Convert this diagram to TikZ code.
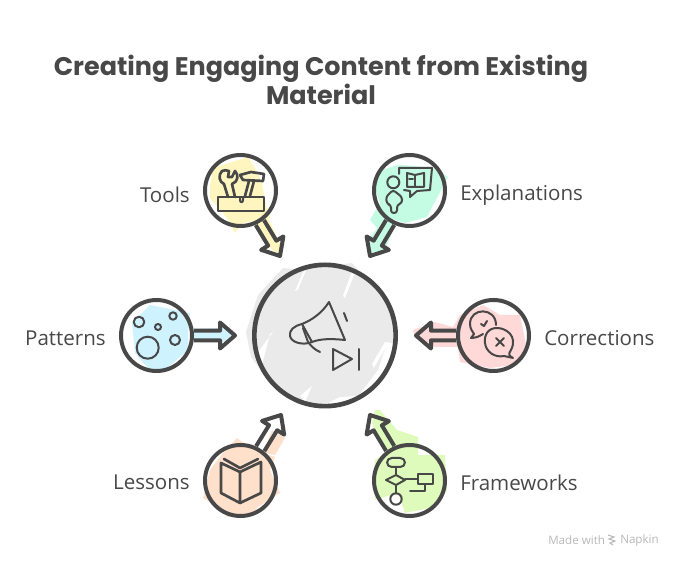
\documentclass[tikz,border=0pt]{standalone}
\usepackage{fontspec}
\setmainfont{Open Sans}
\newfontfamily\titlefont{Poppins}
\usetikzlibrary{positioning,calc}
\definecolor{ink}{HTML}{484848}
\definecolor{washgrey}{HTML}{EAEAEA}
\definecolor{washyellow}{HTML}{FFF6BF}
\definecolor{washmint}{HTML}{C4FBE3}
\definecolor{washblue}{HTML}{CFF2FF}
\definecolor{washpink}{HTML}{FFD8D8}
\definecolor{washorange}{HTML}{FFE1CB}
\definecolor{washgreen}{HTML}{DFFBBC}
\tikzset{
  sat/.style       = {circle, draw=ink, line width=3pt, minimum size=53.25pt, inner sep=0pt},
  hub/.style       = {circle, draw=ink, line width=3.5pt, minimum size=106pt, inner sep=0pt},
  lbl/.style       = {font=\fontsize{15.4}{18}\selectfont, text=ink, inner sep=0pt},
  arrowline/.style = {draw=ink, line width=3pt, line join=round},
  icon/.style      = {draw=ink, line width=1.5pt, line join=round, line cap=round},
  iconb/.style     = {draw=ink, line width=2pt, line join=round, line cap=round},
  stamp/.style     = {font=\fontsize{8.7}{11}\selectfont, text=black!28, inner sep=0pt},
}
\newcommand{\sketcharrow}[2]{%
  \path (#1) -- (#2) coordinate[pos=0] (tail);
  \coordinate (neck) at ($(#2)!11.25pt!(tail)$);
  \draw[arrowline] ($(tail)!3.6pt!90:(#2)$) -- ($(neck)!3.6pt!90:(#2)$) -- ($(neck)!9.75pt!90:(#2)$) -- (#2)
    -- ($(neck)!9.75pt!-90:(#2)$) -- ($(neck)!3.6pt!-90:(#2)$) -- ($(tail)!3.6pt!-90:(#2)$);
}
\begin{document}
\begin{tikzpicture}[x=0.75pt,y=-0.75pt]
  \useasboundingbox (0,0) rectangle (679,566);

  % washes
  \fill[washgrey] (283,268) -- (303,270) -- (310,268) -- (352,263) -- (376,290) -- (395,316) -- (398,345)
    -- (387,342) -- (378,370) -- (358,396) -- (340,397) -- (320,407) -- (297,404) -- (268,380) -- (251,357) -- (246,332) -- (258,295) -- cycle;
  \fill[white] (303,272) -- (306,270) -- (298,290) -- (295,291) -- cycle;
  \fill[white] (353,268) -- (356,270) -- (345,298) -- (343,296) -- cycle;
  \fill[white] (273,332) -- (270,334) -- (262,365) -- (258,352) -- cycle;
  \fill[white] (385,342) -- (388,343) -- (374,368) -- (372,364) -- cycle;
  \fill[white] (300,396) -- (312,386) -- (305,402) -- cycle;
  \fill[washyellow] (213,168) -- (248,157) -- (255,168) -- (262,183) -- (265,200) -- (270,218) -- (243,223) -- (235,233) -- (227,218) -- (210,198) -- (210,187) -- cycle;
  \fill[washyellow] (255,222) -- (268,218) -- (283,250) -- (278,255) -- (262,240) -- cycle;
  \fill[washmint] (383,170) -- (397,165) -- (403,165) -- (433,168) -- (448,177) -- (427,217) -- (405,223) -- (388,218) -- (377,228) -- (370,220) -- (380,203) -- (373,183) -- cycle;
  \fill[washmint] (385,218) -- (395,226) -- (385,250) -- (370,256) -- (368,240) -- cycle;
  \fill[washblue] (132,323) -- (150,305) -- (190,313) -- (188,333) -- (188,350) -- (173,363) -- (160,373) -- (147,367) -- (135,353) -- cycle;
  \fill[washblue] (190,329) -- (225,328) -- (232,335) -- (225,342) -- (190,341) -- cycle;
  \fill[washpink] (413,330) -- (435,322) -- (453,327) -- (460,315) -- (483,305) -- (500,315) -- (520,315) -- (527,350) -- (513,365) -- (490,368) -- (460,362) -- (458,347) -- (435,347) -- (415,338) -- cycle;
  \fill[washorange] (237,438) -- (253,450) -- (263,453) -- (275,457) -- (270,470) -- (280,493) -- (258,507) -- (250,517) -- (228,517) -- (215,505) -- (203,498) -- (210,470) -- (223,453) -- cycle;
  \fill[washorange] (263,453) -- (272,430) -- (285,438) -- (275,455) -- cycle;
  \fill[washgreen] (375,410) -- (380,410) -- (397,430) -- (418,437) -- (418,455) -- (445,455) -- (447,490) -- (435,507) -- (405,513) -- (398,493) -- (375,500) -- (373,480) -- (375,460) -- (385,453) -- (372,423) -- cycle;

  % title
  \node[font=\titlefont\bfseries\fontsize{19.1}{22}\selectfont, text=ink, align=center, inner sep=0pt] (title) at (321,80)
    {Creating Engaging Content from Existing\\Material};

  % circles
  \node[hub] (promo) at (325,335.5) {};
  \node[sat] (tools) at (240.5,190.5) {};
  \node[sat] (explain) at (409.5,190.5) {};
  \node[sat] (patterns) at (156.5,335.5) {};
  \node[sat] (fixes) at (493.5,335.5) {};
  \node[sat] (lessons) at (240.5,480.5) {};
  \node[sat] (frames) at (409.5,480.5) {};

  % labels
  \node[lbl, left=9.75pt of tools, yshift=-3pt] (toolslbl) {Tools};
  \node[lbl, right=9.75pt of explain, yshift=-3.2pt] (explainlbl) {Explanations};
  \node[lbl, left=9.75pt of patterns, yshift=-2pt] (patternslbl) {Patterns};
  \node[lbl, right=9.75pt of fixes, yshift=-2pt] (fixeslbl) {Corrections};
  \node[lbl, left=9.75pt of lessons, yshift=-1.5pt] (lessonslbl) {Lessons};
  \node[lbl, right=9.75pt of frames, yshift=-1.5pt] (frameslbl) {Frameworks};

  % arrows
  \coordinate (toolstip) at (280,256);
  \coordinate (explaintip) at (370,256);
  \coordinate (patternstip) at (235,335.5);
  \coordinate (fixestip) at (416,335.5);
  \coordinate (lessonstip) at (281,415);
  \coordinate (framestip) at (370,415);
  \foreach \src/\tip in {tools/toolstip, explain/explaintip, patterns/patternstip, fixes/fixestip, lessons/lessonstip, frames/framestip}
    \sketcharrow{\src}{\tip};

  % megaphone
  \draw[icon] (329,302) .. controls (322,313) and (312,320) .. (302,324) -- (312,342) .. controls (322,338) and (335,339) .. (345,340) -- cycle;
  \draw[icon] (302,324) .. controls (294,326) and (289,330) .. (290,336) .. controls (291,342) and (302,346) .. (312,342);
  \draw[icon] (303,328) -- (308,342) .. controls (311,346) and (315,350) .. (320,352);
  \draw[icon] (344,313) -- (347,321);
  \draw[icon] (333,349) -- (352,359) -- (333,370) -- cycle;
  \draw[icon] (359,349) -- (359,370);

  % tools
  \draw[iconb] (218,197) rectangle (264,211);
  \draw[icon] (240,197) -- (240,200) .. controls (240,203) and (243,203) .. (243,200) -- (243,197);
  \draw[iconb] (222,171) .. controls (218,175) and (219,182) .. (224,184) -- (228,197);
  \draw[iconb] (235,197) -- (232,184) .. controls (238,182) and (239,175) .. (235,171) -- (232,177) -- (228,177) -- (229,171) .. controls (227,170) and (224,170) .. (222,171);
  \draw[iconb] (240,175) -- (251,172) -- (264,174) -- (263,181) -- (243,180) -- cycle;
  \draw[iconb] (249,181) -- (245,196);
  \draw[iconb] (254,181) -- (250,196);

  % person and book
  \draw[icon] (393.3,182.3) circle[radius=6];
  \draw[icon, rounded corners=2pt] (393,190) -- (386,197) -- (387,204) -- (391,205) -- (391,213) -- (397,213) -- (397,205) -- (402,203) -- (402,197) -- cycle;
  \draw[icon] (399,174) -- (399,168) -- (432,168) -- (430,190) -- (417,191) -- (410,197) -- (410,191) -- (404,190);
  \draw[icon] (407,173) -- (415,175) -- (424,173) -- (424,187) -- (407,187) -- cycle;
  \draw[icon] (415,175) -- (415,187);
  \draw[icon] (409,179) -- (413,179);

  % bubbles
  \draw[icon] (139,322) circle[radius=5.3];
  \draw[icon] (158,327) circle[radius=3];
  \draw[icon] (173,316) circle[radius=3.7];
  \draw[icon] (175,340) circle[radius=5];
  \draw[icon] (147.7,347.7) circle[radius=11];

  % speech balloons
  \draw[icon] (496,325) .. controls (496,307) and (470,307) .. (470,324) .. controls (470,329) and (473,332) .. (474,334) -- (471,338) .. controls (476,338) and (480,336) .. (483,334);
  \draw[icon] (481,324) -- (484,326) -- (487,321);
  \draw[icon] (513,358) .. controls (509,356) and (508,354) .. (511,350) .. controls (518,336) and (506,328) .. (497,328) .. controls (488,328) and (484,335) .. (485,343) .. controls (486,352) and (495,358) .. (504,356) -- cycle;
  \draw[icon] (496,338) -- (504,346);
  \draw[icon] (504,338) -- (496,346);

  % open book
  \draw[iconb] (221,463) -- (240,472) -- (240,503) -- (221,493) -- cycle;
  \draw[iconb] (240,472) -- (261,462) -- (261,493) -- (240,503);
  \draw[iconb] (224,459) -- (240,468) -- (258,459);

  % flow chart
  \draw[icon, rounded corners=3.5pt] (387,458) rectangle (405,467);
  \draw[icon] (396,467) -- (396,475);
  \draw[icon] (386,480) -- (396,475) -- (405,480) -- (396,485) -- cycle;
  \draw[icon] (396,485) -- (396,493.5);
  \draw[icon] (396,499) circle[radius=5.7];
  \draw[icon] (405,479) -- (418,479);
  \draw[icon] (418,474) rectangle (433,484);
  \draw[icon] (425,484) -- (425,491) -- (410,491);

  % maker mark
  \node[stamp, anchor=west] (madewith) at (548,540) {Made with};
  \node[stamp, anchor=west] (napkin) at (620,540) {Napkin};
  \draw[black!28, line width=0.8pt] (608,535) -- (614,537) -- (609,539) -- (615,541) -- (610,543) -- (613,545);
\end{tikzpicture}
\end{document}
